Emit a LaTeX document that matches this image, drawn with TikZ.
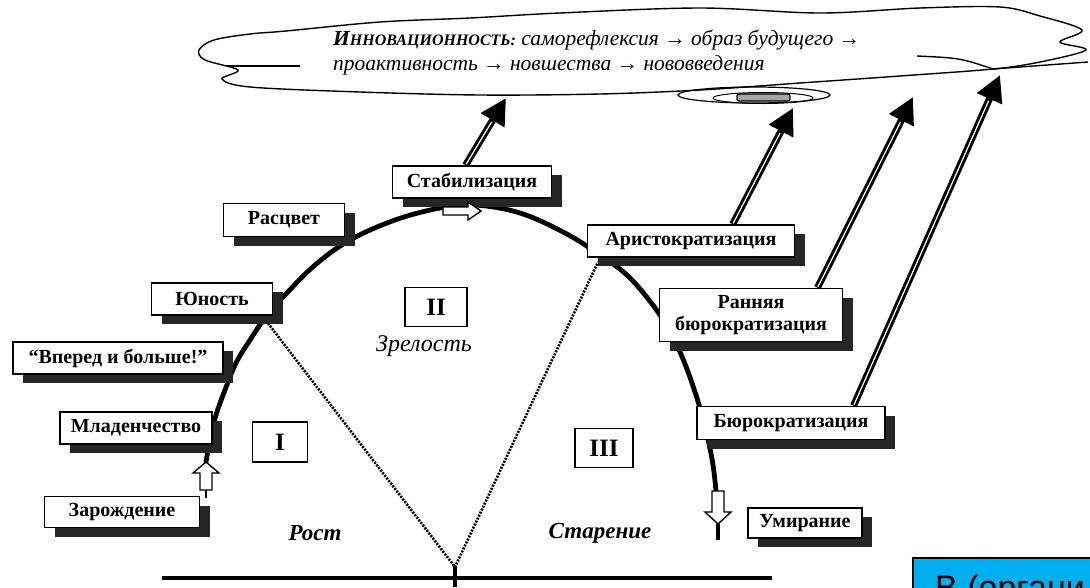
\documentclass[tikz,border=0pt]{standalone}
\usepackage{fontspec}
\setmainfont{Liberation Serif}
\newfontfamily\slidefont{Liberation Sans}
\usetikzlibrary{arrows.meta,shadows,calc}

\tikzset{
  stage/.style 2 args={draw=black, line width=1.6pt, fill=white, inner sep=0pt,
    minimum width=#1pt, minimum height=#2pt, align=center,
    font=\bfseries\fontsize{20}{22}\selectfont,
    drop shadow={shadow xshift=10pt, shadow yshift=-9pt, fill=black!85, opacity=1}},
  phase/.style 2 args={draw=black, line width=1.6pt, fill=white, inner sep=0pt,
    minimum width=#1pt, minimum height=#2pt, font=\bfseries\fontsize{25}{25}\selectfont},
  era/.style={inner sep=0pt, font=\bfseries\itshape\fontsize{23}{24}\selectfont},
  lifeline/.style={line width=4.8pt, line cap=round},
  split/.style={line width=2.6pt, dash pattern=on 2pt off 1.3pt},
  uplift/.style={line width=7pt, -{Triangle[length=26pt, width=26pt]}},
  hollow/.style={draw=black, line width=1.4pt, fill=white, line join=miter},
  cloudline/.style={line width=1.4pt},
}

\begin{document}
\begin{tikzpicture}[x=1pt, y=-1pt]
    \useasboundingbox (0,0) rectangle (1090,587);

    % cloud of innovation
    \draw[cloudline, fill=white] plot[smooth cycle, tension=0.55] coordinates {
      (286,31) (380,22) (470,18) (560,13) (700,8) (820,13) (920,8) (1000,7)
      (1040,16) (1082,30) (1060,42) (1086,50) (1040,62) (993,69) (900,76)
      (800,83) (700,90) (600,94) (480,95) (360,92) (250,87) (222,79) (238,70)
      (205,60) (199,50) (214,40) (250,34)};
    \draw[cloudline] (226,66) -- (300,66);
    \draw[cloudline] (917,56) .. controls (960,58) .. (993,69) -- (1088,62);
    \draw[line width=1.2pt] (754,95) ellipse [x radius=76pt, y radius=8pt];
    \draw[line width=1pt] (763,98) ellipse [x radius=50pt, y radius=5.5pt];
    \draw[line width=1.2pt, fill=black!35, rounded corners=2pt] (737,94) rectangle (790,101);

    \begin{scope}[every node/.style={anchor=base west, inner sep=0pt,
                  font=\itshape\fontsize{21.5}{23}\selectfont}]
    \node (innov1) at (333,45) {\textbf{И\fontsize{16}{16}\selectfont ННОВАЦИОННОСТЬ:} саморефлексия → образ будущего →};
    \node (innov2) at (333,70) {проактивность → новшества → нововведения};
    \end{scope}

    % life curve, split lines and time axis
    \draw[lifeline] plot[smooth, tension=0.6] coordinates {
      (206,462) (210,440) (216,415) (225,390) (236,363) (250,340) (265,318)
      (285,295) (315,265) (350,240) (395,220) (440,208) (475,205) (520,213)
      (565,233) (600,255) (630,278) (660,315) (680,352) (696,395) (707,435)
      (713,465) (716,491)};
    \coordinate (base) at (455,567);
    \draw[split] (264,318) -- (base) -- (598,262);
    \draw[line width=4.5pt] (162,578) -- (772,578);
    \draw[line width=4.5pt] (455,566) -- (455,587);
    \draw[line width=2.5pt] (206,490) -- (206,498);
    \draw[line width=4.5pt] (718,524) -- (718,540);

    % stages
    \node[stage={159}{32}] (stab) at (472,182) {Стабилизация};
    \node[stage={121}{33}] (rascvet) at (284,220) {Расцвет};
    \node[stage={121}{32}] (yunost) at (212,299) {Юность};
    \node[stage={210}{32}] (vpered) at (118,358) {“Вперед и больше!”};
    \node[stage={152}{32}] (mlad) at (136,428) {Младенчество};
    \node[stage={155}{31}] (zarozh) at (122,512) {Зарождение};
    \node[stage={207}{32}] (aristo) at (691,241) {Аристократизация};
    \node[stage={183}{53}] (rannyaya) at (751,315) {Ранняя\\бюрократизация};
    \node[stage={188}{33}] (bjuro) at (791,423) {Бюрократизация};
    \node[stage={114}{30}] (umir) at (805,523) {Умирание};

    % phases
    \node[phase={62}{39}] (ph2) at (436,307) {II};
    \node[phase={55}{40}] (ph1) at (280,442) {I};
    \node[phase={58}{39}] (ph3) at (604,448) {III};
    \node[inner sep=0pt, font=\itshape\fontsize{24}{25}\selectfont] (mature) at (424,346) {Зрелость};
    \node[era] (growth) at (315,533) {Рост};
    \node[era] (ageing) at (600,533) {Старение};

    % hollow block arrows on the curve
    \draw[hollow] (200,490) -- (200,473) -- (193,473) -- (206,462) -- (219,473) -- (212,473) -- (212,490) -- cycle;
    \draw[hollow] (443,207) -- (468,207) -- (468,202) -- (481,211) -- (468,220) -- (468,215) -- (443,215) -- cycle;
    \draw[hollow] (712,491) -- (724,491) -- (724,512) -- (731,512) -- (718,524) -- (705,512) -- (712,512) -- cycle;

    % arrows up into the cloud
    \coordinate (from1) at ($(stab.north west)!0.46!(stab.north east)$);
    \coordinate (from2) at ($(aristo.north west)!0.70!(aristo.north east)$);
    \coordinate (from3) at ($(rannyaya.north west)!0.86!(rannyaya.north east)$);
    \coordinate (from4) at ($(bjuro.north west)!0.83!(bjuro.north east)$);
    \coordinate (tip1) at (506,98);
    \coordinate (tip2) at (793,108);
    \coordinate (tip3) at (913,97);
    \coordinate (tip4) at (1000,75);
    \foreach \i in {1,...,4} {
      \draw[uplift] (from\i) -- (tip\i);
      \draw[white, line width=1.2pt, shorten >=28pt, shorten <=1pt] (from\i) -- (tip\i);
    }

    % slide note, cut by the frame
    \begin{scope}
    \clip (0,0) rectangle (1090,587);
    \draw[line width=2pt, fill=cyan] (913,558) rectangle (1100,600);
    \node[anchor=base west, inner sep=0pt, font=\slidefont\fontsize{34}{34}\selectfont] (note) at (935,599) {В (органи};
    \end{scope}

\end{tikzpicture}
\end{document}
